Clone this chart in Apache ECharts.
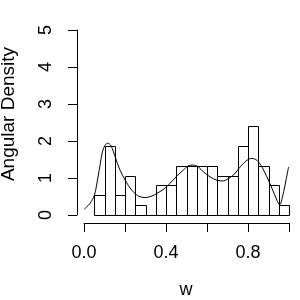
<!DOCTYPE html>
<html>
<head>
<meta charset="utf-8">
<script src="https://cdn.jsdelivr.net/npm/echarts@6/dist/echarts.min.js"></script>
<style>
html,body{margin:0;padding:0;background:#fff;}
#c{width:300px;height:300px;}
</style>
</head>
<body>
<div id="c"></div>
<script>
// Histogram bins (lower edge, upper edge) and densities
var binLo = [0.05,0.10,0.15,0.20,0.25,0.30,0.35,0.40,0.45,0.50,0.55,0.60,0.65,0.70,0.75,0.80,0.85,0.90,0.95];
var binHi = [0.10,0.15,0.20,0.25,0.30,0.35,0.40,0.45,0.50,0.55,0.60,0.65,0.70,0.75,0.80,0.85,0.90,0.95,1.00];
var binDensity = [0.533,1.867,0.533,1.067,0.267,0,0.800,0.800,1.333,1.333,1.333,1.333,1.067,1.067,1.867,2.400,1.333,0.800,0.267];

// Density curve estimate
var curveX = [0.002,0.029,0.051,0.070,0.090,0.103,0.116,0.132,0.152,0.176,0.201,0.233,0.266,0.298,0.331,0.354,0.387,0.419,0.452,0.484,0.509,0.533,0.558,0.582,0.615,0.648,0.680,0.697,0.729,0.762,0.795,0.819,0.843,0.868,0.892,0.917,0.941,0.954,0.974,0.987,0.998];
var curveY = [0.16,0.31,0.54,1.08,1.71,1.89,1.94,1.87,1.57,1.21,0.94,0.67,0.51,0.47,0.51,0.58,0.69,0.85,1.05,1.21,1.33,1.35,1.30,1.17,1.03,0.94,0.92,0.96,1.08,1.30,1.48,1.53,1.48,1.30,1.03,0.72,0.40,0.27,0.63,0.99,1.30];

var xTicks = [0, 0.2, 0.4, 0.6, 0.8, 1.0];
var xTickLabels = ['0.0', '', '0.4', '', '0.8', ''];
var yTickLabels = ['0', '1', '2', '3', '4', '5'];
var xTitle = 'w';
var yTitle = 'Angular Density';

var FONT = '"Liberation Sans", Arial, sans-serif';

var barData = binLo.map(function(lo, i){ return [lo, binHi[i], binDensity[i]]; });
var lineData = curveX.map(function(x, i){ return [x, curveY[i]]; });

var chart = echarts.init(document.getElementById('c'), null, {renderer:'canvas'});
chart.setOption({
  animation: false,
  backgroundColor: '#ffffff',
  grid: {left: 84, right: 11, top: 30, bottom: 85},
  xAxis: {
    type: 'value', min: 0, max: 1, interval: 0.2, offset: 8,
    axisLine: {show: true, onZero: false, lineStyle: {color: '#000', width: 1}},
    axisTick: {show: true, length: 9, lineStyle: {color: '#000', width: 1}},
    splitLine: {show: false},
    axisLabel: {
      color: '#000', fontSize: 18, fontFamily: FONT, margin: 21,
      formatter: function(v){
        for (var i = 0; i < xTicks.length; i++) { if (Math.abs(xTicks[i]-v) < 1e-9) return xTickLabels[i]; }
        return '';
      }
    }
  },
  yAxis: {
    type: 'value', min: 0, max: 5, interval: 1, offset: 7,
    axisLine: {show: true, onZero: false, lineStyle: {color: '#000', width: 1}},
    axisTick: {show: true, length: 9, lineStyle: {color: '#000', width: 1}},
    splitLine: {show: false},
    axisLabel: {
      color: '#000', fontSize: 18, fontFamily: FONT, margin: 22, rotate: 90,
      align: 'center', verticalAlign: 'bottom',
      formatter: function(v){ return yTickLabels[Math.round(v)]; }
    }
  },
  graphic: [
    {type: 'text', x: 9, y: 114, rotation: Math.PI/2,
     style: {text: yTitle, fill: '#000', font: '19px ' + FONT, align: 'center', verticalAlign: 'middle'}},
    {type: 'text', x: 186, y: 290,
     style: {text: xTitle, fill: '#000', font: '18px ' + FONT, align: 'center', verticalAlign: 'middle'}}
  ],
  series: [
    {
      type: 'custom',
      data: barData,
      renderItem: function(params, api){
        var h = api.value(2);
        var p0 = api.coord([api.value(0), 0]);
        var p1 = api.coord([api.value(1), h]);
        var x0 = Math.round(p0[0]) + 0.5, x1 = Math.round(p1[0]) + 0.5;
        var y0 = Math.round(p0[1]) + 0.5, y1 = Math.round(p1[1]) + 0.5;
        if (h <= 0) {
          return {type: 'line', shape: {x1: x0, y1: y0, x2: x1, y2: y0}, style: {stroke: '#000', lineWidth: 1}};
        }
        return {
          type: 'rect',
          shape: {x: x0, y: y1, width: x1 - x0, height: y0 - y1},
          style: {fill: '#fff', stroke: '#000', lineWidth: 1}
        };
      },
      encode: {x: [0, 1], y: 2},
      z: 2
    },
    {
      type: 'line',
      data: lineData,
      smooth: 0.3,
      showSymbol: false,
      lineStyle: {color: '#000', width: 1},
      z: 3
    }
  ]
});
</script>
</body>
</html>
